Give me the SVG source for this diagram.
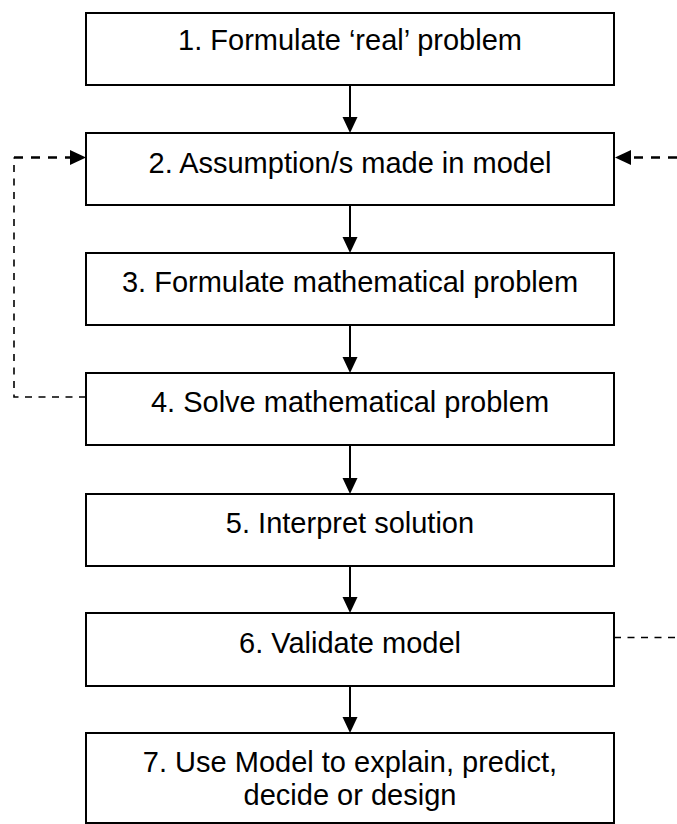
<svg xmlns="http://www.w3.org/2000/svg" width="677" height="824" viewBox="0 0 677 824">
  <style>
    .box { fill: #ffffff; stroke: #000000; stroke-width: 2; }
    .lbl { font-family: "Liberation Sans", Arial, sans-serif; font-size: 29px; fill: #000000; text-anchor: middle; }
    .flow { stroke: #000000; stroke-width: 2; fill: none; }
    .fbThick { stroke: #000000; stroke-width: 2.6; fill: none; stroke-dasharray: 9 8; }
    .fbThin { stroke: #000000; stroke-width: 1.6; fill: none; stroke-dasharray: 7 6.5; }
  </style>
  <defs>
    <marker id="arrow" markerUnits="userSpaceOnUse" markerWidth="16" markerHeight="16" refX="0" refY="8" orient="auto">
      <path d="M0,0.5 L16,8 L0,15.5 Z" fill="#000000"/>
    </marker>
  </defs>

  <g id="node1">
    <rect class="box" x="86" y="13" width="528" height="72"/>
    <text class="lbl" x="350" y="50">1. Formulate ‘real’ problem</text>
  </g>
  <g id="node2">
    <rect class="box" x="86" y="133" width="528" height="72"/>
    <text class="lbl" x="350" y="173">2. Assumption/s made in model</text>
  </g>
  <g id="node3">
    <rect class="box" x="86" y="253" width="528" height="72"/>
    <text class="lbl" x="350" y="292">3. Formulate mathematical problem</text>
  </g>
  <g id="node4">
    <rect class="box" x="86" y="373" width="528" height="72"/>
    <text class="lbl" x="350" y="412">4. Solve mathematical problem</text>
  </g>
  <g id="node5">
    <rect class="box" x="86" y="494" width="528" height="72"/>
    <text class="lbl" x="350" y="533">5. Interpret solution</text>
  </g>
  <g id="node6">
    <rect class="box" x="86" y="613" width="528" height="73"/>
    <text class="lbl" x="350" y="653">6. Validate model</text>
  </g>
  <g id="node7">
    <rect class="box" x="86" y="733" width="528" height="90"/>
    <text class="lbl" x="350" y="772">7. Use Model to explain, predict,</text>
    <text class="lbl" x="350" y="805">decide or design</text>
  </g>

  <g id="connectors">
    <line class="flow" x1="350" y1="86" x2="350" y2="117" marker-end="url(#arrow)"/>
    <line class="flow" x1="350" y1="206" x2="350" y2="237" marker-end="url(#arrow)"/>
    <line class="flow" x1="350" y1="326" x2="350" y2="357" marker-end="url(#arrow)"/>
    <line class="flow" x1="350" y1="446" x2="350" y2="478" marker-end="url(#arrow)"/>
    <line class="flow" x1="350" y1="567" x2="350" y2="597" marker-end="url(#arrow)"/>
    <line class="flow" x1="350" y1="687" x2="350" y2="717" marker-end="url(#arrow)"/>

    <path class="fbThin" d="M86,397 H14 V157.5"/>
    <path class="fbThick" d="M14,157.5 H70" marker-end="url(#arrow)"/>
    <path class="fbThick" d="M677,157.5 H631" marker-end="url(#arrow)"/>
    <path class="fbThin" d="M614,637.5 H677"/>
  </g>
</svg>
